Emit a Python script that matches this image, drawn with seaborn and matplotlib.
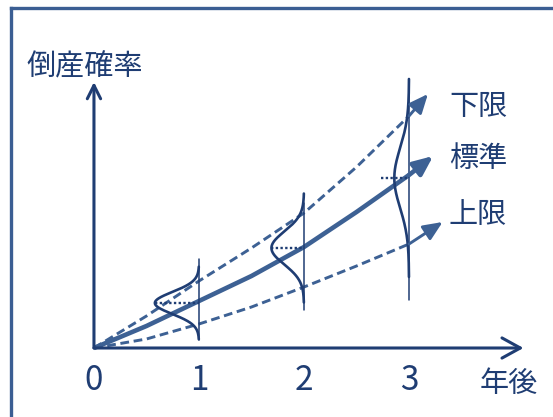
import matplotlib.pyplot as plt
import numpy as np
import seaborn as sns

# curves (x = years, y = arbitrary probability units)
years = [0, 0.5, 1, 1.5, 2, 2.5, 3]
lower_bound = [0, 3.2, 6.7, 10.0, 13.5, 18.1, 23.2]   # 下限
standard = [0, 2.2, 4.7, 7.2, 10.1, 13.6, 17.3]       # 標準
upper_bound = [0, 0.9, 2.4, 4.1, 6.1, 8.2, 10.4]      # 上限
tips_x = [3.18, 3.23, 3.32]
tips_y = [25.4, 19.2, 12.6]
curve_labels = ["下限", "標準", "上限"]

# spread of the distribution at each year
dist_years = [1, 2, 3]
dist_center = [4.5, 10.0, 17.0]
dist_height = [0.42, 0.31, 0.14]
dist_sigma = [1.1, 1.65, 3.0]
dist_guide_lo = [0.8, 3.8, 4.8]
dist_guide_hi = [8.9, 14.5, 26.8]
dist_dot_len = [0.42, 0.31, 0.27]

tick_years = [0, 1, 2, 3]

navy = "#1f3d73"
steel = "#3d6194"
frame = "#3b5e93"

sns.set_style("white")
plt.rcParams["font.family"] = ["Noto Sans CJK JP", "DejaVu Sans"]

fig = plt.figure(figsize=(5.53, 4.17), dpi=100)
ax = fig.add_axes([11 / 553, 0, 542 / 553, 409 / 417])
ax.set_xlim(-0.79, 4.371)
ax.set_ylim(-6.9, 34.0)
ax.set_xticks([])
ax.set_yticks([])
for side in ["right", "bottom"]:
    ax.spines[side].set_visible(False)
for side in ["left", "top"]:
    ax.spines[side].set_color(frame)
    ax.spines[side].set_linewidth(2.4)

# axes with open arrow heads
ax.annotate("", xy=(0, 26.6), xytext=(0, 0),
            arrowprops=dict(arrowstyle="->,head_length=0.4,head_width=0.2",
                            mutation_scale=24, color=navy, lw=2.2,
                            shrinkA=0, shrinkB=0))
ax.annotate("", xy=(4.09, 0), xytext=(0, 0),
            arrowprops=dict(arrowstyle="->,head_length=0.4,head_width=0.22",
                            mutation_scale=33, color=navy, lw=2.2,
                            shrinkA=0, shrinkB=0))

# three scenario curves
series = [lower_bound, standard, upper_bound]
styles = [(2.1, (3, 1.6)), (3.3, None), (2.1, (3, 1.6))]
for vals, (lw, dash), tx, ty in zip(series, styles, tips_x, tips_y):
    line_kw = dict(color=steel, lw=lw)
    if dash:
        line_kw["dashes"] = dash
    ax.plot(years, vals, solid_capstyle="butt", dash_capstyle="butt", **line_kw)
    ax.annotate("", xy=(tx, ty), xytext=(years[-1], vals[-1]),
                arrowprops=dict(arrowstyle="-|>,head_length=0.55,head_width=0.24",
                                mutation_scale=21, color=steel, lw=lw,
                                shrinkA=0, shrinkB=0))

# distribution bells
for k, mu, amp, sig, lo, hi, dl in zip(dist_years, dist_center, dist_height,
                                       dist_sigma, dist_guide_lo, dist_guide_hi,
                                       dist_dot_len):
    ax.plot([k, k], [lo, hi], color=navy, lw=1.1)
    yy = np.linspace(mu - 3.3 * sig, mu + 3.3 * sig, 200)
    xx = k - amp * np.exp(-((yy - mu) ** 2) / (2 * sig ** 2))
    sns.lineplot(x=xx, y=yy, sort=False, estimator=None, errorbar=None,
                 ax=ax, color=navy, lw=1.9)
    ax.plot([k - dl, k], [mu, mu], color=navy, lw=1.7, ls=(0, (1, 1)))

# text
ax.text(-0.086, 28.1, "倒産確率", fontsize=21, color=navy, ha="center", va="center")
for lab, ty in zip(curve_labels, [24.1, 18.9, 13.3]):
    ax.text(3.657, ty, lab, fontsize=21, color=navy, ha="center", va="center")
for t in tick_years:
    ax.text(t, -3.3, str(t), fontsize=24, color=navy, ha="center", va="center")
ax.text(3.95, -3.6, "年後", fontsize=21, color=navy, ha="center", va="center")

fig.savefig("out.png", dpi=100)
